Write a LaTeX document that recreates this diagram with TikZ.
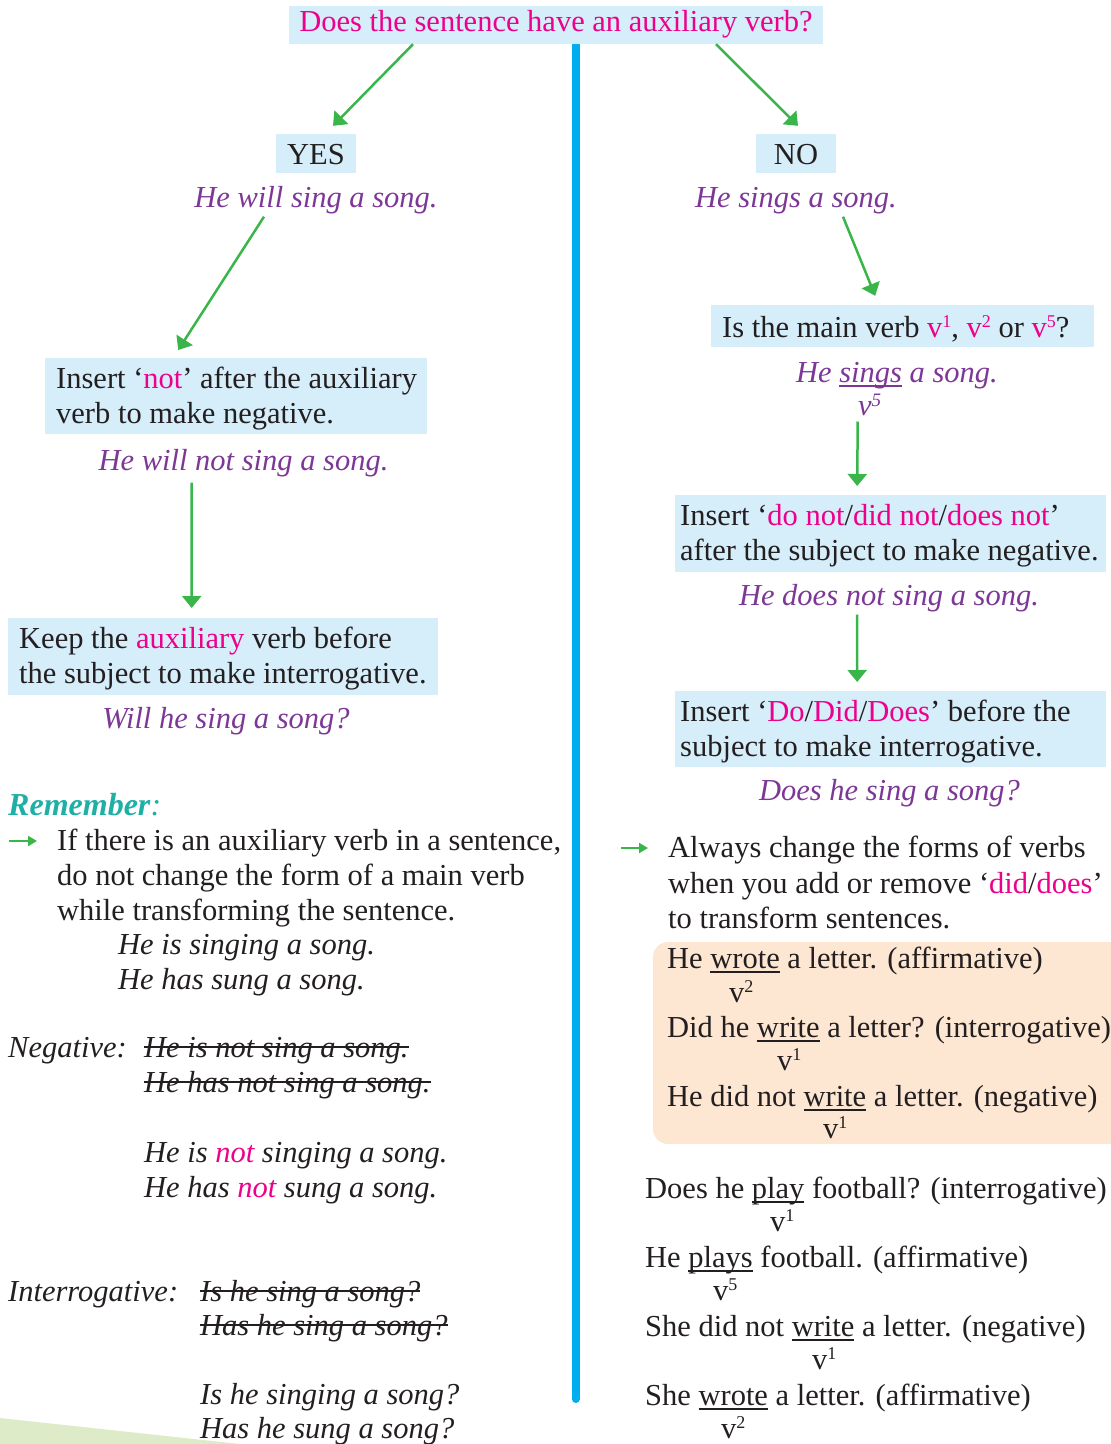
\documentclass[tikz,border=0pt]{standalone}
\usepackage{fontspec}
\setmainfont{Liberation Serif}
\usetikzlibrary{arrows.meta}
\definecolor{pinkc}{RGB}{236,0,140}
\definecolor{purplec}{RGB}{125,55,150}
\definecolor{boxblue}{RGB}{214,237,250}
\definecolor{greenc}{RGB}{57,181,74}
\definecolor{bluec}{RGB}{0,174,239}
\definecolor{tealc}{RGB}{30,176,165}
\definecolor{orangec}{RGB}{253,231,211}
\definecolor{textc}{RGB}{35,31,32}
\definecolor{lgreen}{RGB}{221,235,200}
\newcommand{\bodyfs}{\fontsize{30.5}{35}\selectfont}
\newcommand{\nsp}{\spaceskip=0pt\xspaceskip=0pt\relax}
\newcommand{\topst}{\rule{0pt}{27pt}}
\newcommand{\botst}{\rule[-8pt]{0pt}{0pt}}
\newcommand{\pk}[1]{\textcolor{pinkc}{#1}}
\newcommand{\sups}[1]{\raisebox{10pt}{\fontsize{18}{18}\selectfont #1}}
\newcommand{\isups}[1]{\raisebox{9pt}{\fontsize{19}{19}\selectfont #1}}
\newsavebox{\mybox}
\newcommand{\uln}[1]{\sbox{\mybox}{#1}\rlap{\rule[-4.5pt]{\wd\mybox}{1.8pt}}\usebox{\mybox}}
\newcommand{\strk}[1]{\sbox{\mybox}{#1}\rlap{\rule[9pt]{\wd\mybox}{1.6pt}}\usebox{\mybox}}
\begin{document}
\begin{tikzpicture}[x=1pt,y=-1pt,
  every node/.style={inner sep=0pt, font=\bodyfs, text=textc},
  qbox/.style={fill=boxblue, anchor=base},
  mbox/.style={fill=boxblue, anchor=north west, align=left, inner ysep=0pt, inner xsep=#1},
  ex/.style={text=purplec, font=\bodyfs\itshape},
  itx/.style={font=\bodyfs\itshape, anchor=base west},
  bl/.style={anchor=base west},
  conn/.style={draw=greenc, line width=2.5pt, -{Triangle[length=12pt,width=19pt]}},
  bul/.style={draw=greenc, line width=2pt, -{Triangle[length=9pt,width=10pt]}}
]
\useasboundingbox (0,0) rectangle (1111,1444);
% background shapes
\fill[lgreen] (0,1418) -- (240,1444) -- (0,1444) -- cycle;
\coordinate (divtop) at (575.5,40);
\coordinate (divbot) at (575.5,1399);
\draw[bluec, line width=8pt, line cap=round] (divtop) -- (divbot);
\fill[orangec, rounded corners=15pt] (653,942) rectangle (1140,1144);

% top question
\node[qbox, minimum width=534pt, text height=25pt, text depth=13pt, text=pinkc] (q) at (556,31)
  {Does the sentence have an auxiliary verb?};
\node[qbox, minimum width=80pt, text height=30pt, text depth=9pt] (yes) at (316,164) {YES};
\node[qbox, minimum width=80pt, text height=30pt, text depth=9pt] (no) at (796,164) {NO};
\node[ex, anchor=base] (s1) at (316,207) {He will sing a song.};
\node[ex, anchor=base] (s2) at (796,207) {He sings a song.};

% left branch
\node[mbox=11pt, minimum width=382pt, minimum height=76pt, text width=360pt] (b1) at (45,358)
  {\mbox{\nsp\topst Insert ‘\pk{not}’ after the auxiliary}\\\mbox{\nsp verb to make negative.\botst}};
\node[ex, anchor=base] (n1) at (243.5,470) {He will not sing a song.};
\node[mbox=11pt, minimum width=430pt, minimum height=77pt, text width=408pt] (b2) at (8,618)
  {\mbox{\nsp\topst Keep the \pk{auxiliary} verb before}\\\mbox{\nsp the subject to make interrogative.\botst}};
\node[ex, anchor=base] (n2) at (226,728) {Will he sing a song?};

% right branch
\node[fill=boxblue, anchor=base west, inner xsep=11pt, text width=361pt, text height=32pt, text depth=10pt, align=left] (b3) at (711,337)
  {\mbox{\nsp Is the main verb \pk{v\sups{1}}, \pk{v\sups{2}} or \pk{v\sups{5}}?}};
\node[ex, anchor=base] (m1) at (897,382) {He \uln{sings} a song.};
\node[ex, anchor=base west] (m1v) at (858,415) {v\isups{5}};
\node[mbox=5pt, minimum width=431pt, minimum height=77pt, text width=421pt] (b4) at (675,495)
  {\mbox{\nsp\topst Insert ‘\pk{do not}/\pk{did not}/\pk{does not}’}\\\mbox{\nsp after the subject to make negative.\botst}};
\node[ex, anchor=base] (m2) at (889,605) {He does not sing a song.};
\node[mbox=5pt, minimum width=431pt, minimum height=76pt, text width=421pt] (b5) at (675,691)
  {\mbox{\nsp\topst Insert ‘\pk{Do}/\pk{Did}/\pk{Does}’ before the}\\\mbox{\nsp subject to make interrogative.\botst}};
\node[ex, anchor=base] (m3) at (889.5,800) {Does he sing a song?};

% connectors
\draw[conn] ([shift={(-143,0)}]q.south) -- ([shift={(17,-8)}]yes.north);
\draw[conn] ([shift={(160,0)}]q.south) -- ([shift={(2,-8)}]no.north);
\draw[conn] ([shift={(-52,3)}]s1.south) -- ([shift={(-58,-8)}]b1.north);
\draw[conn] ([shift={(47,3)}]s2.south) -- ([shift={(-27.5,-9)}]b3.north);
\draw[conn] ([shift={(-52,6)}]n1.south) -- ([shift={(-31.5,-10)}]b2.north);
\draw[conn] ([shift={(-12,6)}]m1v.south) -- ([shift={(-33.5,-9)}]b4.north);
\draw[conn] ([shift={(-32,3)}]m2.south) -- ([shift={(-33.5,-9)}]b5.north);

% Remember (left)
\node[bl, text=tealc] (rem) at (8,815) {\fontsize{32}{35}\selectfont\textbf{\textit{Remember}}\textit{:}};
\coordinate (r1a) at (9,841);
\coordinate (r1b) at (37,841);
\draw[bul] (r1a) -- (r1b);
\node[bl] (l1) at (57,850) {If there is an auxiliary verb in a sentence,};
\node[bl] (l2) at (57,885) {do not change the form of a main verb};
\node[bl] (l3) at (57,920) {while transforming the sentence.};
\node[itx] (l4) at (118,954) {He is singing a song.};
\node[itx] (l5) at (118,989) {He has sung a song.};
\node[itx] (l6) at (8,1057) {Negative:};
\node[itx] (l7) at (144,1057) {\strk{He is not sing a song.}};
\node[itx] (l8) at (144,1092) {\strk{He has not sing a song.}};
\node[itx] (l9) at (144,1162) {He is \pk{not} singing a song.};
\node[itx] (l10) at (144,1197) {He has \pk{not} sung a song.};
\node[itx] (l11) at (8,1301) {Interrogative:};
\node[itx] (l12) at (200,1301) {\strk{Is he sing a song?}};
\node[itx] (l13) at (200,1335) {\strk{Has he sing a song?}};
\node[itx] (l14) at (200,1404) {Is he singing a song?};
\node[itx] (l15) at (200,1438) {Has he sung a song?};

% right notes
\coordinate (r2a) at (621,848);
\coordinate (r2b) at (648,848);
\draw[bul] (r2a) -- (r2b);
\node[bl] (k1) at (668,857) {Always change the forms of verbs};
\node[bl] (k2) at (668,893) {when you add or remove ‘\pk{did}/\pk{does}’};
\node[bl] (k3) at (668,928) {to transform sentences.};
\node[bl] (p1) at (667,968) {He \uln{wrote} a letter. (affirmative)};
\node[bl] (p1v) at (729,1002) {v\sups{2}};
\node[bl] (p2) at (667,1037) {Did he \uln{write} a letter? (interrogative)};
\node[bl] (p2v) at (777,1070) {v\sups{1}};
\node[bl] (p3) at (667,1106) {He did not \uln{write} a letter. (negative)};
\node[bl] (p3v) at (823,1138) {v\sups{1}};
\node[bl] (e1) at (645,1198) {Does he \uln{play} football? (interrogative)};
\node[bl] (e1v) at (770,1231) {v\sups{1}};
\node[bl] (e2) at (645,1267) {He \uln{plays} football. (affirmative)};
\node[bl] (e2v) at (713,1300) {v\sups{5}};
\node[bl] (e3) at (645,1336) {She did not \uln{write} a letter. (negative)};
\node[bl] (e3v) at (812,1369) {v\sups{1}};
\node[bl] (e4) at (645,1405) {She \uln{wrote} a letter. (affirmative)};
\node[bl] (e4v) at (721,1438) {v\sups{2}};
\end{tikzpicture}
\end{document}
